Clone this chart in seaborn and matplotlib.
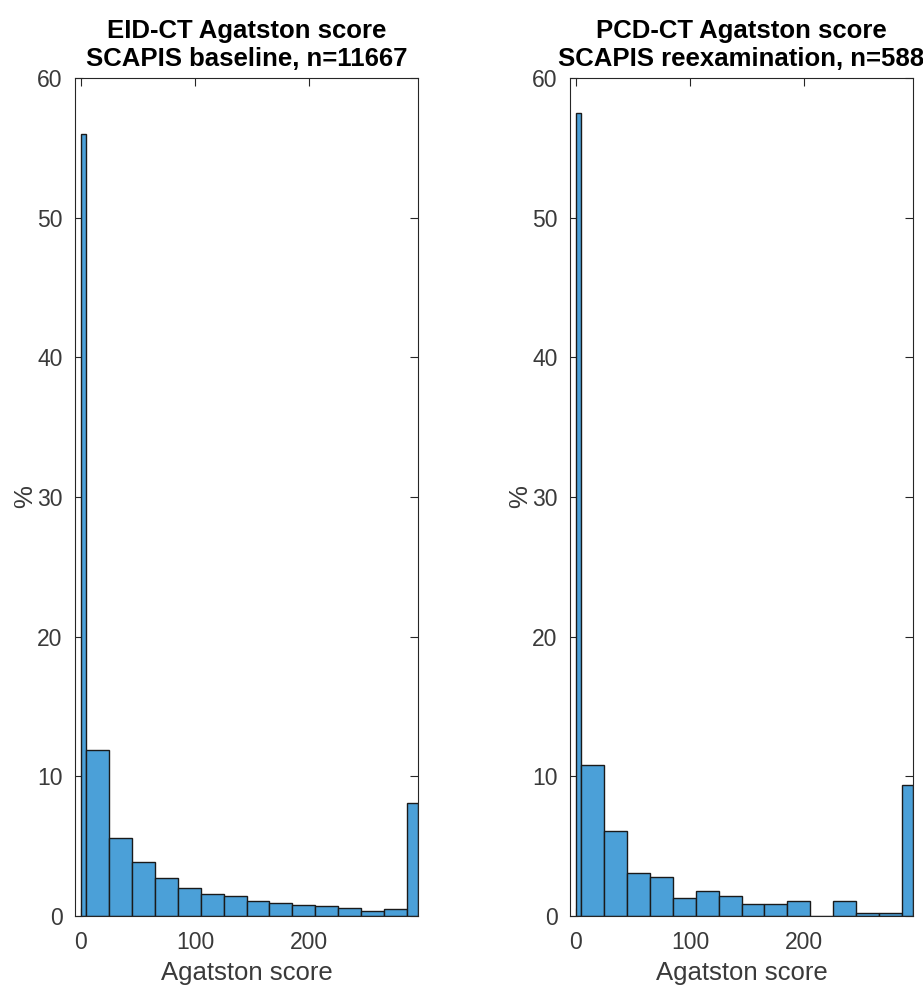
import numpy as np
import pandas as pd
import matplotlib
matplotlib.use("Agg")
import matplotlib.pyplot as plt
import seaborn as sns

# Bin edges (Agatston score): zero-score bin, 20-wide bins, overflow bin
bin_edges = [0, 5, 25, 45, 65, 85, 105, 125, 145, 165, 185, 205, 225, 245, 265, 285, 295]

# Percent of participants per bin
eid_pct = [56.0, 11.9, 5.56, 3.84, 2.74, 1.99, 1.54, 1.40, 1.09, 0.92, 0.82, 0.73, 0.56, 0.37, 0.47, 8.1]
pcd_pct = [57.5, 10.82, 6.07, 3.11, 2.78, 1.27, 1.80, 1.45, 0.89, 0.89, 1.09, 0.0, 1.09, 0.18, 0.18, 9.36]

titles = ["EID-CT Agatston score\nSCAPIS baseline, n=11667",
          "PCD-CT Agatston score\nSCAPIS reexamination, n=588"]
x_ticks = [0, 100, 200]
y_ticks = [0, 10, 20, 30, 40, 50, 60]
x_label = "Agatston score"
y_label = "%"

sns.set_theme(style="white")
plt.rcParams["font.family"] = ["Liberation Sans", "DejaVu Sans"]

fig = plt.figure(figsize=(9.23, 9.86), dpi=100)
W, H = 923, 986
ax_l = fig.add_axes([75 / W, 1 - 916 / H, (418 - 75) / W, (916 - 78) / H])
ax_r = fig.add_axes([570 / W, 1 - 916 / H, (913 - 570) / W, (916 - 78) / H])

centers = [(a + b) / 2 for a, b in zip(bin_edges[:-1], bin_edges[1:])]
bar_color = "#4BA0D8"
tick_col = "#3a3a3a"

for ax, pct, title in zip([ax_l, ax_r], [eid_pct, pcd_pct], titles):
    df = pd.DataFrame({"score": centers, "pct": pct})
    sns.histplot(data=df, x="score", weights="pct", bins=list(bin_edges), ax=ax,
                 color=bar_color, edgecolor="#1a1a1a", linewidth=1.0, alpha=1.0)
    ax.set_xlim(-5, 295)
    ax.set_ylim(0, 60)
    ax.set_xticks(x_ticks)
    ax.set_yticks(y_ticks)
    ax.tick_params(axis="both", direction="in", length=6, width=0.8,
                   colors="#262626", labelcolor=tick_col, labelsize=16.5,
                   top=True, right=True, bottom=True, left=True)
    ax.tick_params(axis="x", pad=11)
    ax.tick_params(axis="y", pad=9)
    for s in ax.spines.values():
        s.set_visible(True)
        s.set_color("#262626")
        s.set_linewidth(0.8)
    ax.set_xlabel(x_label, fontsize=18.5, color=tick_col, labelpad=5)
    ax.set_ylabel(y_label, fontsize=18.5, color=tick_col, labelpad=0)
    ax.set_title(title, fontsize=18.5, fontweight="bold", color="black",
                 pad=9, linespacing=1.2)
    ax.grid(False)
    ax.set_facecolor("white")

fig.savefig("out.png", dpi=100, facecolor="white")
